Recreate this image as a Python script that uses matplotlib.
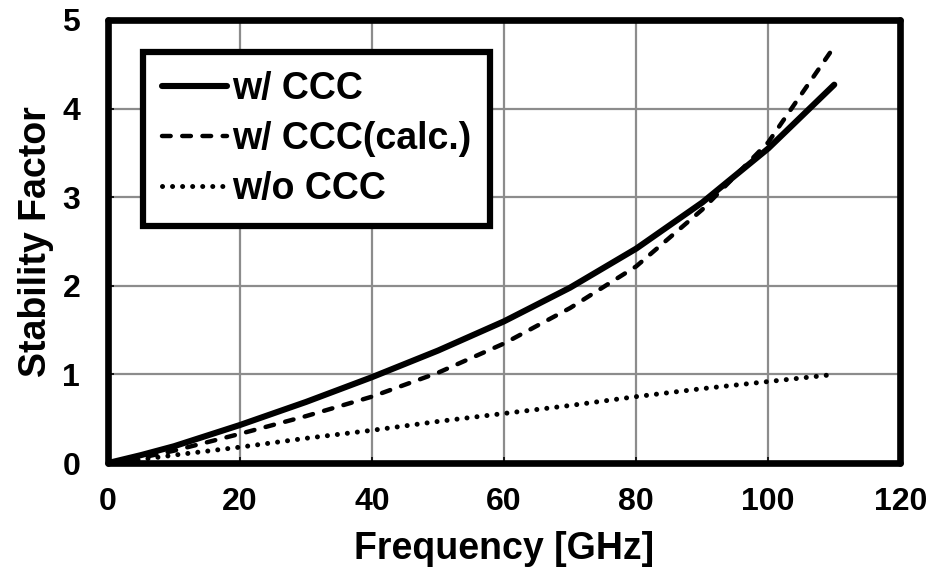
import numpy as np
import matplotlib
matplotlib.use("Agg")
import matplotlib.pyplot as plt

plt.rcParams["font.family"] = ["Liberation Sans", "DejaVu Sans"]
plt.rcParams["font.weight"] = "bold"

# valores
freq = [0, 5, 10, 20, 30, 40, 50, 60, 70, 80, 90, 100, 110]
k_ccc = [0.0, 0.09, 0.19, 0.43, 0.69, 0.97, 1.27, 1.60, 1.98, 2.42, 2.94, 3.55, 4.27]
k_calc = [0.0, 0.06, 0.14, 0.33, 0.53, 0.75, 1.02, 1.35, 1.75, 2.22, 2.86, 3.62, 4.70]
k_sem = [0.0, 0.04, 0.09, 0.18, 0.28, 0.37, 0.47, 0.56, 0.65, 0.75, 0.84, 0.92, 1.00]

fig = plt.figure(figsize=(9.31, 5.71), dpi=100)
ax = fig.add_axes([0.116, 0.189, 0.851, 0.776])

ax.plot(freq, k_ccc, color="black", lw=4.4, solid_capstyle="round",
        solid_joinstyle="round", label="w/ CCC")
ax.plot(freq, k_calc, color="black", lw=3.2, dashes=(1.95, 2.6), dash_capstyle="round",
        label="w/ CCC(calc.)")
ax.plot(freq, k_sem, color="black", lw=3.6, dashes=(0.01, 2.0), dash_capstyle="round",
        label="w/o CCC")

ax.set_xlim(0, 120)
ax.set_ylim(0, 5)
ax.set_xticks(range(0, 121, 20))
ax.set_yticks(range(0, 6))
ax.grid(True, color="#8c8c8c", lw=1.6)
ax.set_axisbelow(True)

for s in ax.spines.values():
    s.set_linewidth(4.8)
    s.set_capstyle("round")

ax.tick_params(direction="in", length=4, width=1.2, labelsize=23)
ax.tick_params(axis="x", pad=17)
ax.tick_params(axis="y", pad=20)
ax.set_xlabel("Frequency [GHz]", fontsize=27, fontweight="bold", labelpad=10)
ax.set_ylabel("Stability Factor", fontsize=27, fontweight="bold", labelpad=6)

leg = ax.legend(loc="upper left", bbox_to_anchor=(0.044, 0.928), fontsize=27,
                frameon=True, fancybox=False, handlelength=1.75, handletextpad=0.12,
                borderpad=0.5, labelspacing=0.38, borderaxespad=0)
leg.get_frame().set_edgecolor("black")
leg.get_frame().set_linewidth(4.5)
leg.get_frame().set_alpha(1)

fig.savefig("out.png", dpi=100)
